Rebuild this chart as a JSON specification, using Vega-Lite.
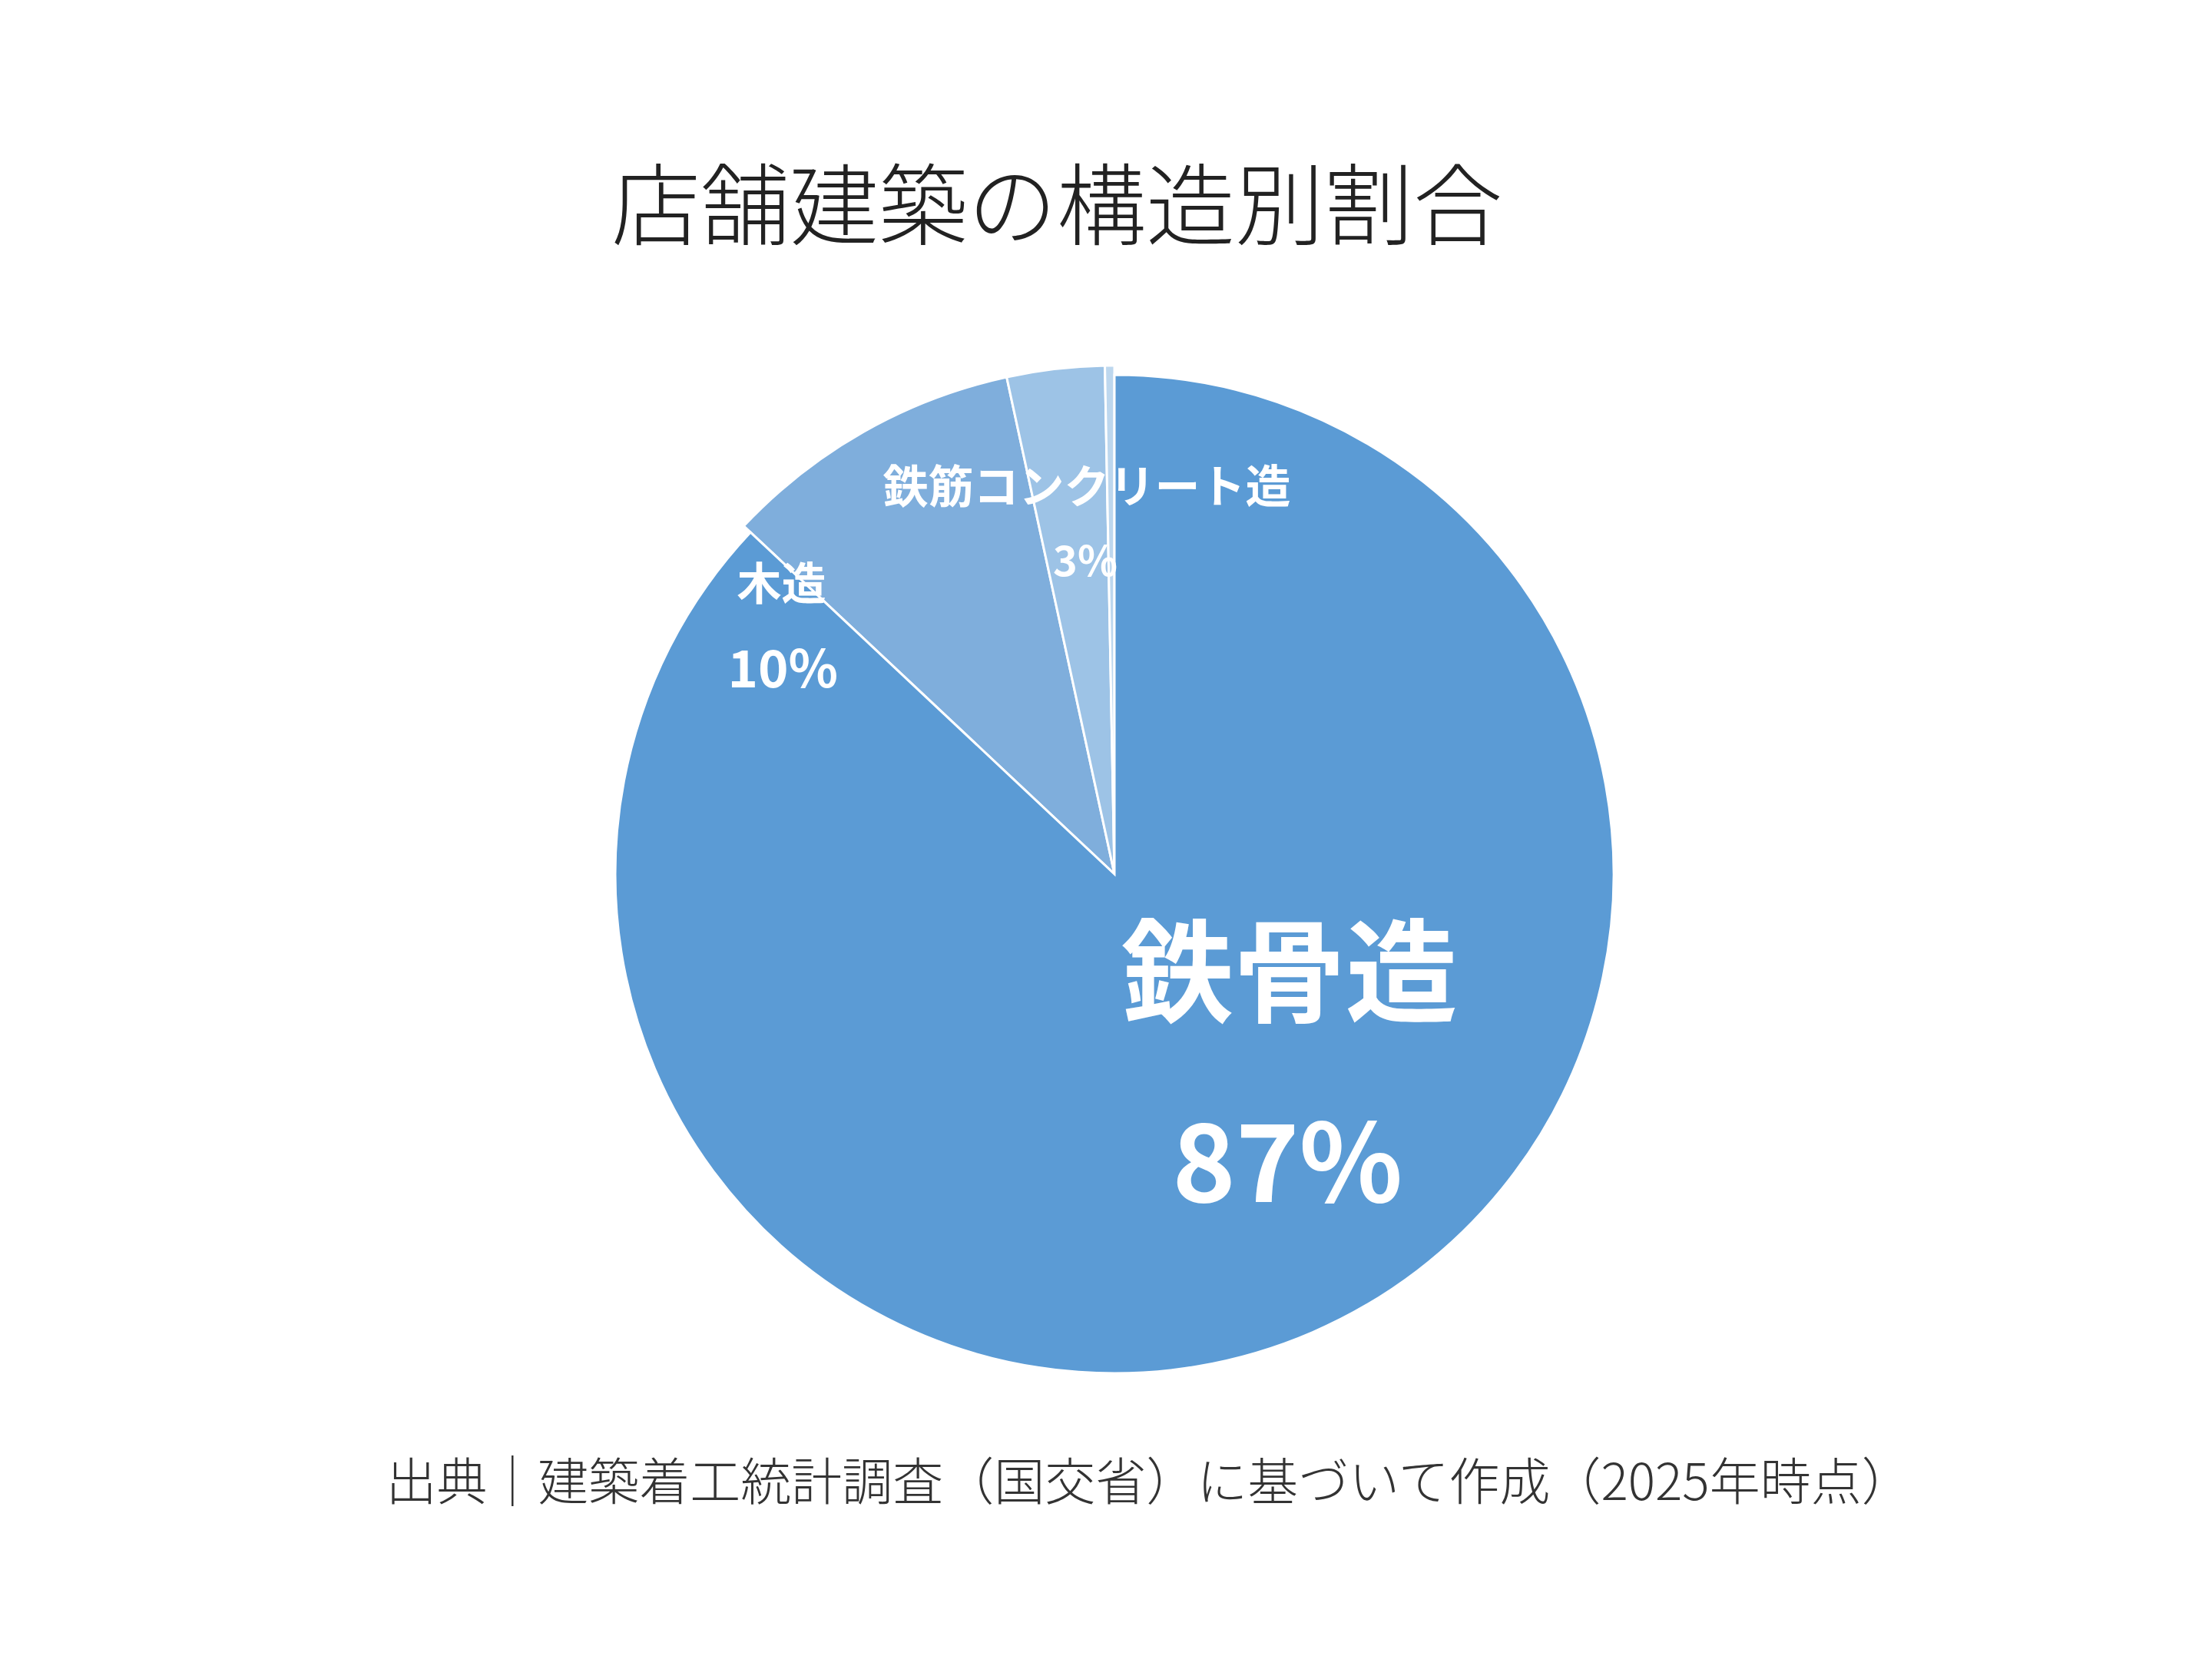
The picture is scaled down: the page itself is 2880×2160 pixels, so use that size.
{
  "$schema": "https://vega.github.io/schema/vega-lite/v6.json",
  "width": 2858,
  "height": 2044,
  "autosize": {"type": "none"},
  "padding": {"left": 22, "top": 116, "right": 0, "bottom": 0},
  "background": "white",
  "config": {"view": {"stroke": null}},
  "title": {
    "text": "店舗建築の構造別割合",
    "subtitle": "⠀⠀⠀⠀⠀出典｜建築着工統計調査（国交省）に基づいて作成（2025年時点）",
    "anchor": "middle",
    "frame": "group",
    "orient": "top",
    "dx": -75,
    "offset": -1851,
    "font": "Noto Sans CJK JP",
    "fontSize": 116,
    "fontWeight": 300,
    "color": "#222222",
    "subtitleFont": "Noto Sans CJK JP",
    "subtitleFontSize": 66,
    "subtitleFontWeight": 300,
    "subtitleColor": "#333333",
    "subtitlePadding": 1567
  },
  "data": {"values": [
    {"name": "鉄骨造", "share": 0.870, "order": 1},
    {"name": "木造", "share": 0.096, "order": 2},
    {"name": "鉄筋コンクリート造", "share": 0.031, "order": 3},
    {"name": "その他", "share": 0.003, "order": 4}
  ]},
  "transform": [
    {"stack": "share", "groupby": [], "sort": [{"field": "order", "order": "ascending"}], "as": ["t0", "t1"]}
  ],
  "layer": [
    {
      "transform": [{"filter": "datum.name !== '鉄骨造'"}],
      "mark": {"type": "arc", "outerRadius": 662, "stroke": "white", "strokeWidth": 3},
      "encoding": {
        "theta": {"field": "t0", "type": "quantitative", "stack": null, "scale": {"domain": [0, 1]}},
        "theta2": {"field": "t1"},
        "color": {"field": "name", "type": "nominal", "legend": null,
          "scale": {"domain": ["鉄骨造", "木造", "鉄筋コンクリート造", "その他"], "range": ["#5B9BD5", "#7FAEDC", "#9DC3E6", "#BDD7EE"]}}
      }
    },
    {
      "transform": [{"filter": "datum.name === '鉄骨造'"}],
      "mark": {"type": "arc", "outerRadius": 650, "stroke": "white", "strokeWidth": 3},
      "encoding": {
        "theta": {"field": "t0", "type": "quantitative", "stack": null, "scale": {"domain": [0, 1]}},
        "theta2": {"field": "t1"},
        "color": {"field": "name", "type": "nominal", "legend": null}
      }
    },
    {
      "transform": [{"filter": "datum.name === '鉄骨造'"}],
      "mark": {"type": "text", "radius": 261, "thetaOffset": 2.082, "dy": 9, "font": "Noto Sans CJK JP", "fontWeight": "bold", "fontSize": 146, "color": "white", "align": "center", "baseline": "middle"},
      "encoding": {
        "theta": {"field": "t0", "type": "quantitative", "stack": null, "scale": {"domain": [0, 1]}},
        "text": {"field": "name", "type": "nominal"}
      }
    },
    {
      "transform": [{"filter": "datum.name === '鉄骨造'"}],
      "mark": {"type": "text", "radius": 435, "thetaOffset": 2.597, "dy": 13, "font": "Noto Sans CJK JP", "fontWeight": "bold", "fontSize": 140, "color": "white", "align": "center", "baseline": "middle"},
      "encoding": {
        "theta": {"field": "t0", "type": "quantitative", "stack": null, "scale": {"domain": [0, 1]}},
        "text": {"field": "share", "type": "quantitative", "format": ".0%"}
      }
    },
    {
      "transform": [{"filter": "datum.name === '木造'"}],
      "mark": {"type": "text", "radius": 575, "thetaOffset": -0.0373, "dy": 4, "font": "Noto Sans CJK JP", "fontWeight": "bold", "fontSize": 58, "color": "white", "align": "center", "baseline": "middle"},
      "encoding": {
        "theta": {"field": "t0", "type": "quantitative", "stack": null, "scale": {"domain": [0, 1]}},
        "text": {"field": "name", "type": "nominal"}
      }
    },
    {
      "transform": [{"filter": "datum.name === '木造'"}],
      "mark": {"type": "text", "radius": 508, "thetaOffset": -0.1986, "dy": 5, "font": "Noto Sans CJK JP", "fontWeight": "bold", "fontSize": 67, "color": "white", "align": "center", "baseline": "middle"},
      "encoding": {
        "theta": {"field": "t0", "type": "quantitative", "stack": null, "scale": {"domain": [0, 1]}},
        "text": {"field": "share", "type": "quantitative", "format": ".0%"}
      }
    },
    {
      "transform": [{"filter": "datum.name === '鉄筋コンクリート造'"}],
      "mark": {"type": "text", "radius": 507, "thetaOffset": 0.1426, "dy": 5, "font": "Noto Sans CJK JP", "fontWeight": "bold", "fontSize": 59, "color": "white", "align": "center", "baseline": "middle"},
      "encoding": {
        "theta": {"field": "t0", "type": "quantitative", "stack": null, "scale": {"domain": [0, 1]}},
        "text": {"field": "name", "type": "nominal"}
      }
    },
    {
      "transform": [{"filter": "datum.name === '鉄筋コンクリート造'"}],
      "mark": {"type": "text", "radius": 410, "thetaOffset": 0.1208, "dy": 4, "font": "Noto Sans CJK JP", "fontWeight": "bold", "fontSize": 54, "color": "white", "align": "center", "baseline": "middle"},
      "encoding": {
        "theta": {"field": "t0", "type": "quantitative", "stack": null, "scale": {"domain": [0, 1]}},
        "text": {"field": "share", "type": "quantitative", "format": ".0%"}
      }
    }
  ]
}
